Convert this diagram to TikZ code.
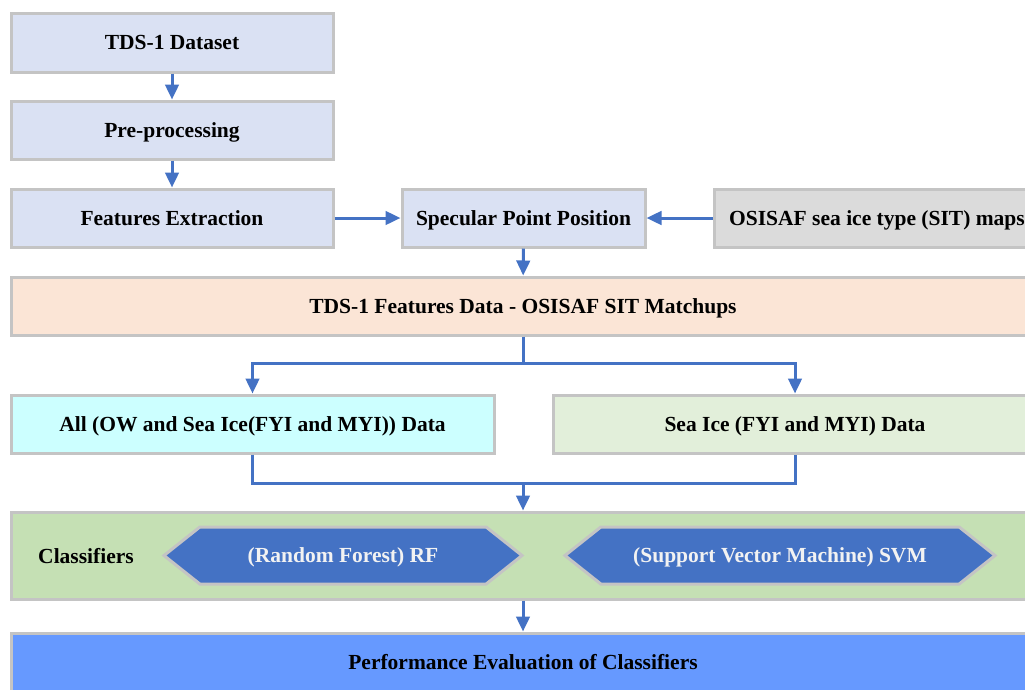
\documentclass[tikz,border=0pt]{standalone}
\usepackage{fontspec}
\setmainfont{Liberation Serif}
\usetikzlibrary{arrows.meta,shapes.symbols}
\definecolor{arrc}{HTML}{4472C4}
\definecolor{bord}{HTML}{C4C4C4}
\definecolor{lav}{HTML}{DAE1F3}
\definecolor{grayb}{HTML}{DBDBDB}
\definecolor{peach}{HTML}{FBE5D6}
\definecolor{cyanb}{HTML}{CCFFFF}
\definecolor{lgreen}{HTML}{E2EFDA}
\definecolor{mgreen}{HTML}{C5E0B4}
\definecolor{hexb}{HTML}{4472C4}
\definecolor{perfb}{HTML}{6699FF}
\definecolor{hext}{HTML}{F2F2F2}
\tikzset{
  lbl/.style={font=\fontsize{21.5}{25}\selectfont\bfseries, text height=14pt, text depth=0pt},
  box/.style={rectangle, draw=bord, line width=3pt, inner sep=0pt, lbl, text=black},
  hexa/.style={signal, signal to=west and east, signal pointer angle=77, draw=bord, line width=3pt, fill=hexb, inner sep=0pt, minimum height=57pt, text=hext, lbl},
  arr/.style={draw=arrc, line width=3pt, -{Triangle[length=15pt,width=13.5pt]}},
  ln/.style={draw=arrc, line width=3pt},
}
\begin{document}
\begin{tikzpicture}[x=1pt,y=-1pt]
\useasboundingbox (0,0) rectangle (1025,689);
\clip (0,0) rectangle (1025,689);
\node[box, fill=lav, minimum width=322pt, minimum height=59pt] (ds) at (172,42.5) {TDS-1 Dataset};
\node[box, fill=lav, minimum width=322pt, minimum height=58pt] (pre) at (172,130) {Pre-processing};
\node[box, fill=lav, minimum width=322pt, minimum height=58pt] (fe) at (172,218) {Features Extraction};
\node[box, fill=lav, minimum width=243pt, minimum height=58pt] (sp) at (523.5,218) {Specular Point Position};
\node[box, fill=grayb, minimum width=326pt, minimum height=58pt] (osi) at (877,218) {OSISAF sea ice type (SIT) maps};
\node[box, fill=peach, minimum width=1024pt, minimum height=58pt] (match) at (523,306) {TDS-1 Features Data - OSISAF SIT Matchups};
\node[box, fill=cyanb, minimum width=483pt, minimum height=58pt] (all) at (252.5,424) {All (OW and Sea Ice(FYI and MYI)) Data};
\node[box, fill=lgreen, minimum width=484pt, minimum height=58pt] (sea) at (795,424) {Sea Ice (FYI and MYI) Data};
\node[box, fill=mgreen, minimum width=1024pt, minimum height=87pt] (cls) at (523,555.5) {};
\node[lbl, inner sep=0pt] (clsl) at (86,556) {Classifiers};
\node[hexa, minimum width=358pt] (rf) at (343,555.5) {(Random Forest) RF};
\node[hexa, minimum width=430pt] (svm) at (780,555.5) {(Support Vector Machine) SVM};
\node[box, fill=perfb, minimum width=1024pt, minimum height=58pt] (perf) at (523,662) {Performance Evaluation of Classifiers};
\coordinate (split) at (523,363);
\coordinate (merge) at (523,483);
\draw[arr] (ds) -- (pre);
\draw[arr] (pre) -- (fe);
\draw[arr] (fe) -- (sp);
\draw[arr] (osi) -- (sp);
\draw[arr] (sp) -- (match);
\draw[ln] (match.south) -- (split);
\draw[arr] (split) -| (all.north);
\draw[arr] (split) -| (sea.north);
\draw[ln] (all.south) |- (merge) -| (sea.south);
\draw[arr] (merge) -- (cls.north);
\draw[arr] (cls.south) -- (perf.north);
\end{tikzpicture}
\end{document}
